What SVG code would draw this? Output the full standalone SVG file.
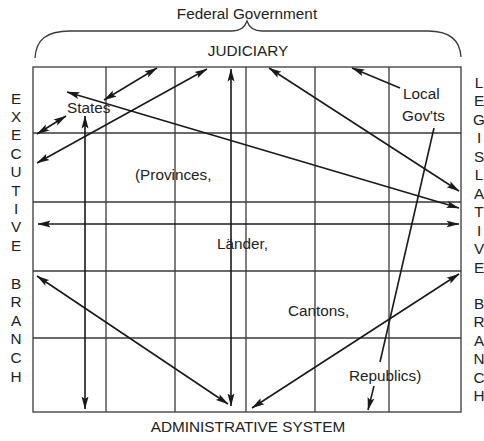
<svg xmlns="http://www.w3.org/2000/svg" width="484" height="441" viewBox="0 0 484 441">
<style>
text{font-family:"Liberation Sans",Arial,sans-serif;font-size:15.3px;fill:#222}
.mid{text-anchor:middle}
.grid{fill:none;stroke:#3a3a3a;stroke-width:1.3}
.ar{fill:none;stroke:#1a1a1a;stroke-width:1.6}
.d{marker-start:url(#ah);marker-end:url(#ah)}
.s{marker-end:url(#ah)}
</style>
<defs>
<marker id="ah" viewBox="0 0 13 8" refX="12.5" refY="4" markerWidth="13" markerHeight="8" markerUnits="userSpaceOnUse" orient="auto-start-reverse">
<path d="M0,0.5 L13,4 L0,7.5 L2.5,4 z" fill="#1a1a1a"/>
</marker>
</defs>
<rect width="484" height="441" fill="#fff"/>

<g id="federal">
<path class="grid" d="M35,58 C36,40 46,31 70,31 L232,31 C240,31 245,27 247,21 C249,27 254,31 262,31 L428,31 C450,31 460,40 461,57" stroke-width="1.5"/>
<text class="mid" x="247" y="19">Federal Government</text>
</g>
<g id="judiciary"><text class="mid" x="248" y="56">JUDICIARY</text></g>
<g id="administrative"><text class="mid" x="248" y="432">ADMINISTRATIVE SYSTEM</text></g>

<g id="executive">
<text class="mid"><tspan x="16" y="103.5">E</tspan><tspan x="16" dy="18.4">X</tspan><tspan x="16" dy="18.4">E</tspan><tspan x="16" dy="18.4">C</tspan><tspan x="16" dy="18.4">U</tspan><tspan x="16" dy="18.4">T</tspan><tspan x="16" dy="18.4">I</tspan><tspan x="16" dy="18.4">V</tspan><tspan x="16" dy="18.4">E</tspan></text>
<text class="mid"><tspan x="16" y="288.5">B</tspan><tspan x="16" dy="18.6">R</tspan><tspan x="16" dy="18.6">A</tspan><tspan x="16" dy="18.6">N</tspan><tspan x="16" dy="18.6">C</tspan><tspan x="16" dy="18.6">H</tspan></text>
</g>
<g id="legislative">
<text class="mid"><tspan x="479" y="87.5">L</tspan><tspan x="479" dy="18.5">E</tspan><tspan x="479" dy="18.5">G</tspan><tspan x="479" dy="18.5">I</tspan><tspan x="479" dy="18.5">S</tspan><tspan x="479" dy="18.5">L</tspan><tspan x="479" dy="18.5">A</tspan><tspan x="479" dy="18.5">T</tspan><tspan x="479" dy="18.5">I</tspan><tspan x="479" dy="18.5">V</tspan><tspan x="479" dy="18.5">E</tspan></text>
<text class="mid"><tspan x="479" y="308.5">B</tspan><tspan x="479" dy="18.5">R</tspan><tspan x="479" dy="18.5">A</tspan><tspan x="479" dy="18.5">N</tspan><tspan x="479" dy="18.5">C</tspan><tspan x="479" dy="18.5">H</tspan></text>
</g>

<g id="grid">
<rect class="grid" x="33" y="67" width="428" height="345"/>
<path class="grid" d="M106,67V412 M175,67V412 M246,67V412 M315,67V412 M389,67V412 M33,133H461 M33,202H461 M33,271H461 M33,338H461"/>
</g>

<g id="connectors">
<path class="ar d" d="M37,134 L66,116"/>
<path class="ar d" d="M104,100 L157,68"/>
<path class="ar d" d="M37,163 L207,69"/>
<path class="ar d" d="M85,116 L85,409"/>
<path class="ar d" d="M231,69 L231,406"/>
<path class="ar d" d="M67,92 L459,208"/>
<path class="ar d" d="M269,68 L459,191"/>
<path class="ar s" d="M400,88 L352,68"/>
<path class="ar" d="M434,128 L380,362"/>
<path class="ar s" d="M374,386 L368,410"/>
<path class="ar d" d="M38,224 L459,224"/>
<path class="ar d" d="M37,276 L228,404"/>
<path class="ar d" d="M459,274 L252,408"/>
</g>

<g id="states"><text x="67" y="113">States</text></g>
<g id="local"><text x="403" y="99">Local</text><text x="402" y="121">Gov'ts</text></g>
<g id="provinces"><text x="135" y="180">(Provinces,</text></g>
<g id="lander"><text x="217" y="249">Länder,</text></g>
<g id="cantons"><text x="288" y="316">Cantons,</text></g>
<g id="republics"><text x="349" y="381">Republics)</text></g>
</svg>
